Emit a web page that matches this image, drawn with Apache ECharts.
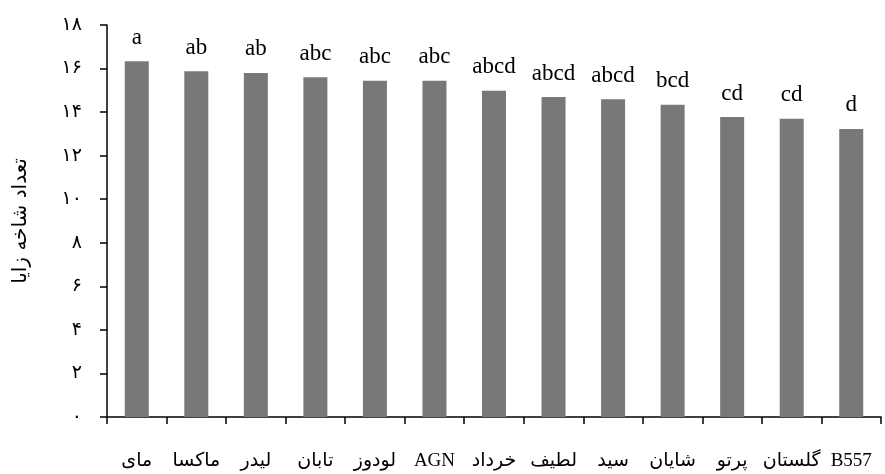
<!DOCTYPE html>
<html>
<head>
<meta charset="utf-8">
<script src="https://cdn.jsdelivr.net/npm/echarts@6/dist/echarts.min.js"></script>
<style>
  html, body { margin: 0; padding: 0; background: #ffffff; }
  #chart { width: 885px; height: 474px; }
</style>
</head>
<body>
<div id="chart"></div>
<script>
// Cultivars along the x axis
const cultivars = ['مای', 'ماکسا', 'لیدر', 'تابان', 'لودوز', 'AGN', 'خرداد', 'لطیف', 'سید', 'شایان', 'پرتو', 'گلستان', 'B557'];
// Mean number of fertile branches per cultivar
const branchCounts = [16.34, 15.88, 15.80, 15.60, 15.44, 15.44, 14.98, 14.69, 14.59, 14.34, 13.77, 13.69, 13.23];
// Mean-comparison group letters
const groupLetters = ['a', 'ab', 'ab', 'abc', 'abc', 'abc', 'abcd', 'abcd', 'abcd', 'bcd', 'cd', 'cd', 'd'];
// Y tick labels in Persian digits (0, 2, ..., 18)
const yTickLabels = ['۰', '۲', '۴', '۶', '۸', '۱۰', '۱۲', '۱۴', '۱۶', '۱۸'];
const yTitle = 'تعداد شاخه زایا';

// Latin glyphs in a serif face, Persian glyphs fall back to DejaVu Sans
const mixedFont = '"Liberation Serif", "DejaVu Sans", serif';
const arabicFont = '"DejaVu Sans", "Noto Sans", sans-serif';

const chart = echarts.init(document.getElementById('chart'), null, { renderer: 'canvas' });
chart.setOption({
  animation: false,
  backgroundColor: '#ffffff',
  grid: { left: 107, right: 4, top: 25, bottom: 57, containLabel: false },
  xAxis: {
    type: 'category',
    data: cultivars,
    axisLine: { lineStyle: { color: '#000', width: 1.5 } },
    axisTick: { show: true, length: 7, lineStyle: { color: '#000', width: 1.5 } },
    axisLabel: {
      color: '#000',
      fontFamily: mixedFont,
      fontSize: 19,
      margin: 35,
      interval: 0
    }
  },
  yAxis: {
    type: 'value',
    min: 0,
    max: 18,
    interval: 2,
    name: yTitle,
    nameLocation: 'middle',
    nameGap: 76,
    nameRotate: 90,
    nameTextStyle: { color: '#000', fontFamily: arabicFont, fontSize: 20 },
    splitLine: { show: false },
    axisLine: { show: true, lineStyle: { color: '#000', width: 1.5 } },
    axisTick: { show: true, length: 7, lineStyle: { color: '#000', width: 1.5 } },
    axisLabel: {
      color: '#000',
      fontFamily: arabicFont,
      fontSize: 19,
      margin: 25,
      formatter: function (v) { return yTickLabels[Math.round(v / 2)]; }
    }
  },
  series: [{
    type: 'bar',
    data: branchCounts,
    barWidth: 24,
    itemStyle: { color: '#787878' },
    label: {
      show: true,
      position: 'top',
      distance: 12,
      color: '#000',
      fontFamily: '"Liberation Serif", "Times New Roman", serif',
      fontSize: 23,
      formatter: function (p) { return groupLetters[p.dataIndex]; }
    }
  }]
});
</script>
</body>
</html>
